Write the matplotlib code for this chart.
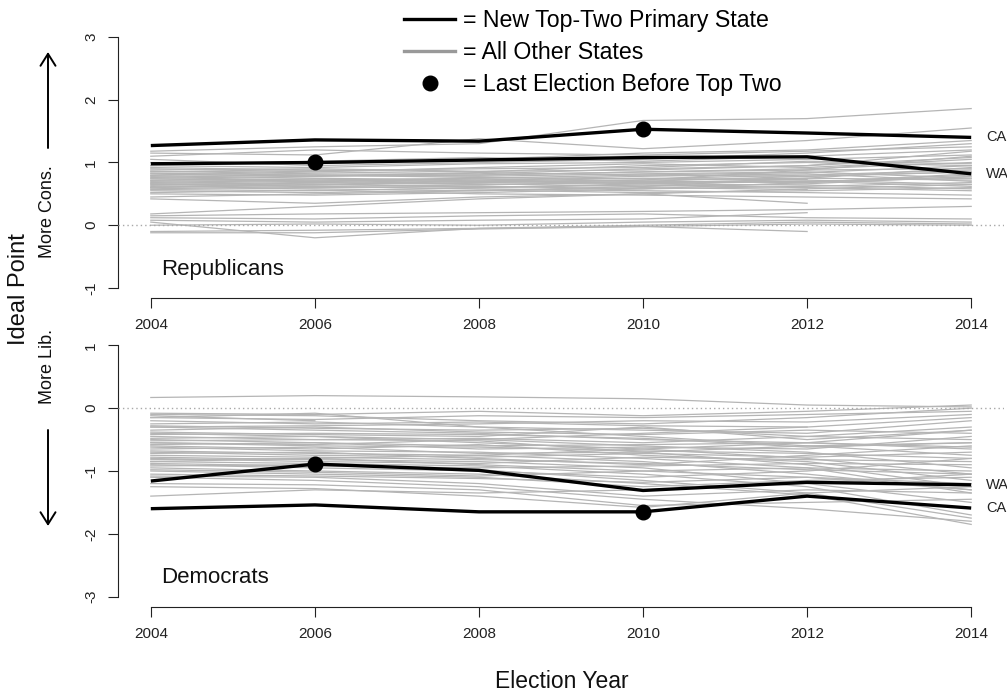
import numpy as np
import matplotlib
matplotlib.use("Agg")
import matplotlib.pyplot as plt
from matplotlib.lines import Line2D
from matplotlib.patches import FancyArrowPatch

plt.rcParams['font.family'] = ['Liberation Sans', 'DejaVu Sans']

nan = np.nan
years = [2004, 2006, 2008, 2010, 2012, 2014]
year_ticks = [2004, 2006, 2008, 2010, 2012, 2014]

# Top-two primary states: ideal points by election
ca_rep = [1.27, 1.36, 1.34, 1.53, 1.47, 1.40]
wa_rep = [0.98, 1.00, 1.04, 1.08, 1.09, 0.82]
ca_dem = [-1.60, -1.54, -1.65, -1.65, -1.40, -1.59]
wa_dem = [-1.16, -0.89, -0.99, -1.31, -1.18, -1.22]

# Year of the last election held before the top-two primary
ca_last = 2010
wa_last = 2006

# All other states, Republicans
other_rep = [
    [1.18, 1.25, 1.30, 1.67, 1.70, 1.86],
    [1.15, 1.12, 1.38, 1.22, 1.35, 1.55],
    [1.10, 1.20, 1.15, 1.12, 1.18, 1.25],
    [1.05, 0.95, 1.00, 1.05, 1.15, 1.30],
    [0.95, 0.92, 0.98, 1.00, 1.05, 1.12],
    [0.92, 0.88, 0.85, 0.95, 1.00, 0.95],
    [0.90, 0.85, 0.92, 0.98, 0.92, 1.05],
    [0.88, 0.90, 0.86, 0.88, 0.95, 1.18],
    [0.86, 0.82, 0.80, 0.85, 0.88, 0.90],
    [0.85, 0.87, 0.90, 0.92, 1.02, 0.98],
    [0.83, 0.80, 0.78, 0.82, 0.85, 0.75],
    [0.82, 0.78, 0.84, 0.80, 0.78, 0.85],
    [0.80, 0.85, 0.82, 0.90, 0.95, 1.08],
    [0.79, 0.75, 0.72, 0.78, 0.82, 0.70],
    [0.78, 0.80, 0.76, 0.74, 0.80, 0.88],
    [0.76, 0.72, 0.70, 0.75, 0.72, 0.65],
    [0.75, 0.78, 0.80, 0.85, 0.90, 1.00],
    [0.74, 0.70, 0.74, 0.70, 0.68, 0.80],
    [0.72, 0.74, 0.68, 0.72, 0.75, 0.72],
    [0.71, 0.68, 0.65, 0.68, 0.70, 0.62],
    [0.70, 0.72, 0.75, 0.80, 0.84, 0.95],
    [0.68, 0.65, 0.70, 0.66, 0.64, 0.58],
    [0.67, 0.70, 0.66, 0.62, 0.66, 0.78],
    [0.66, 0.62, 0.64, 0.70, 0.78, 0.85],
    [0.65, 0.66, 0.60, 0.64, 0.60, 0.55],
    [0.63, 0.60, 0.62, 0.58, 0.62, 0.68],
    [0.62, 0.64, 0.68, 0.72, 0.88, 1.10],
    [0.60, 0.58, 0.55, 0.60, 0.57, nan],
    [0.58, 0.62, 0.58, 0.55, 0.52, 0.48],
    [0.57, 0.55, 0.60, 0.66, 0.70, 0.75],
    [0.55, 0.52, 0.56, 0.52, 0.55, 0.60],
    [0.52, 0.56, 0.50, 0.48, 0.45, 0.42],
    [0.50, 0.48, 0.52, 0.58, 0.68, 0.82],
    [0.45, 0.50, 0.55, 0.62, 0.75, 0.92],
    [0.42, 0.35, 0.45, 0.50, 0.35, nan],
    [0.18, 0.30, 0.42, 0.50, 0.58, 0.65],
    [0.15, 0.18, 0.20, 0.22, 0.25, 0.30],
    [0.12, 0.10, 0.15, 0.18, 0.12, 0.10],
    [0.08, 0.05, 0.08, 0.10, 0.20, nan],
    [0.05, -0.20, -0.05, 0.00, 0.05, 0.02],
    [0.00, 0.02, 0.00, 0.05, 0.08, 0.05],
    [-0.10, -0.08, -0.05, -0.02, 0.02, 0.00],
    [-0.12, -0.12, -0.06, -0.02, -0.10, nan],
    [0.95, 1.02, 1.08, 1.02, 1.10, 1.20],
    [1.00, 0.98, 1.05, 1.15, 1.20, 1.35],
    [0.60, 0.68, 0.72, 0.68, 0.73, nan],
]

# All other states, Democrats
other_dem = [
    [0.17, 0.20, 0.18, 0.15, 0.05, 0.02],
    [-0.08, -0.10, -0.05, -0.12, -0.05, 0.05],
    [-0.10, -0.12, -0.20, -0.25, -0.15, 0.00],
    [-0.12, -0.20, nan, nan, nan, nan],
    [-0.15, -0.08, -0.30, -0.45, -0.60, -0.75],
    [-0.20, -0.25, -0.22, -0.28, -0.30, nan],
    [-0.25, -0.22, -0.30, -0.35, -0.40, -0.20],
    [-0.28, -0.32, -0.35, -0.32, -0.45, -0.30],
    [-0.30, -0.35, -0.40, -0.50, -0.55, -0.65],
    [-0.35, -0.30, -0.38, -0.42, -0.35, -0.40],
    [-0.38, -0.42, -0.45, -0.30, -0.50, -0.35],
    [-0.40, -0.45, -0.50, -0.60, -0.70, -0.95],
    [-0.42, -0.40, -0.42, -0.48, -0.62, -0.55],
    [-0.45, -0.50, -0.48, -0.55, -0.45, -0.50],
    [-0.48, -0.45, -0.55, -0.65, -0.80, -1.05],
    [-0.50, -0.55, -0.60, -0.58, -0.55, -0.62],
    [-0.52, -0.50, -0.52, -0.70, -0.90, -1.25],
    [-0.55, -0.60, -0.62, -0.68, -0.72, -0.80],
    [-0.58, -0.55, -0.65, -0.62, -0.65, -0.45],
    [-0.60, -0.65, -0.58, -0.75, -0.85, -1.15],
    [-0.62, -0.68, -0.70, -0.80, -0.95, -1.35],
    [-0.65, -0.62, -0.72, -0.70, -0.60, -0.55],
    [-0.68, -0.72, -0.75, -0.85, -1.05, -1.30],
    [-0.70, -0.75, -0.78, -0.72, -0.78, -0.70],
    [-0.72, -0.70, -0.80, -0.90, -0.75, -0.60],
    [-0.75, -0.78, -0.82, -0.88, -0.98, -1.05],
    [-0.78, -0.82, -0.85, -0.95, -1.20, -1.50],
    [-0.80, -0.85, -0.88, -0.78, -0.82, -0.85],
    [-0.82, -0.80, -0.90, -1.00, -1.10, -1.20],
    [-0.85, -0.88, -0.92, -1.05, -1.25, -1.70],
    [-0.88, -0.92, -0.95, -0.92, -0.88, -0.90],
    [-0.90, -0.95, -1.00, -1.10, -1.00, -0.80],
    [-0.92, -0.90, -0.98, -1.15, -1.35, -1.75],
    [-0.95, -1.00, -1.05, -1.20, -1.38, -1.85],
    [-0.98, -1.02, -1.08, -1.00, -0.95, -1.00],
    [-1.00, -1.05, -1.10, -1.25, -1.15, -1.10],
    [-1.05, -1.08, -1.12, -1.18, -1.10, -1.30],
    [-1.08, -1.10, -1.20, -1.40, -1.30, -1.35],
    [-1.10, -1.15, -1.25, -1.45, -1.60, -1.80],
    [-1.20, -1.22, -1.30, -1.55, -1.50, -1.45],
    [-1.25, -1.28, -1.40, -1.58, -1.35, -1.25],
    [-1.40, -1.30, -1.35, -1.30, -1.20, -1.05],
    [-0.30, -0.28, -0.25, -0.20, -0.22, -0.10],
    [-0.15, -0.18, -0.12, -0.15, -0.10, -0.05],
    [-0.55, -0.58, -0.50, -0.40, -0.30, -0.15],
    [-0.85, -0.80, -0.75, -0.65, -0.55, -0.35],
]

W, H = 1007, 694
fig = plt.figure(figsize=(W / 100, H / 100), dpi=100)


def px(x, y):
    """Pixel position (from top-left) to figure fraction."""
    return x / W, 1 - y / H


GRAY = '#b5b5b5'
BLACK_LW = 2.4


def panel(rect, ylo, yhi, others, ca, wa, panel_name):
    ax = fig.add_axes(rect)
    pad_y = 0.04 * (yhi - ylo)
    ax.set_xlim(2004 - 0.4, 2014 + 0.4)
    ax.set_ylim(ylo - pad_y, yhi + pad_y)
    for s in ('top', 'right'):
        ax.spines[s].set_visible(False)
    ax.spines['left'].set_bounds(ylo, yhi)
    ax.spines['bottom'].set_bounds(2004, 2014)
    for s in ('left', 'bottom'):
        ax.spines[s].set_linewidth(0.8)
        ax.spines[s].set_color('#222222')
    ax.set_xticks(year_ticks)
    ax.set_yticks(np.arange(ylo, yhi + 1))
    ax.set_yticklabels([f"{int(v)}" for v in np.arange(ylo, yhi + 1)],
                       rotation=90, va='center')
    ax.tick_params(axis='both', length=7.2, width=0.8, color='#222222',
                   labelsize=11, labelcolor='#222222')
    ax.tick_params(axis='x', pad=7.5)
    ax.tick_params(axis='y', pad=7)

    yrs = np.array(years, dtype=float)
    for row in others:
        v = np.array(row, dtype=float)
        m = ~np.isnan(v)
        ax.plot(yrs[m], v[m], color=GRAY, lw=0.9, solid_joinstyle='round',
                zorder=2)
    ax.axhline(0, color='#a8a8a8', lw=1.0, ls=(0, (1, 2.2)), zorder=3)

    for vals, last in ((ca, ca_last), (wa, wa_last)):
        ax.plot(years, vals, color='black', lw=BLACK_LW, zorder=4,
                solid_joinstyle='round', solid_capstyle='butt')
        i = years.index(last)
        ax.plot([years[i]], [vals[i]], 'o', color='black', ms=10.5, zorder=5)

    ax.text(2014.18, ca[-1], 'CA', fontsize=10.5, va='center',
            ha='left', color='#222222', clip_on=False)
    ax.text(2014.18, wa[-1], 'WA', fontsize=10.5, va='center',
            ha='left', color='#222222', clip_on=False)
    ax.text(2004.12, ylo + 0.30, panel_name, fontsize=16, va='center',
            ha='left', color='#111111')
    return ax


ax_top = panel([px(118, 0)[0], 1 - 298 / H, 886 / W, 271 / H],
               -1, 3, other_rep, ca_rep, wa_rep, 'Republicans')
ax_bot = panel([px(118, 0)[0], 1 - 606.7 / H, 886 / W, 271.4 / H],
               -3, 1, other_dem, ca_dem, wa_dem, 'Democrats')

# Legend
handles = [
    Line2D([], [], color='black', lw=BLACK_LW),
    Line2D([], [], color='#999999', lw=BLACK_LW),
    Line2D([], [], color='black', lw=0, marker='o', ms=10.5),
]
labels = ['= New Top-Two Primary State', '= All Other States',
          '= Last Election Before Top Two']
ax_top.legend(handles, labels, loc='upper left', frameon=False,
              bbox_to_anchor=px(404, 9), bbox_transform=fig.transFigure,
              fontsize=16.7, handlelength=2.2, handletextpad=0.35,
              labelspacing=0.38, borderpad=0, borderaxespad=0)

# Shared axis titles and direction cues
fig.text(*px(19, 289), 'Ideal Point', rotation=90, fontsize=17,
         ha='center', va='center', color='#111111')
fig.text(*px(562, 681), 'Election Year', fontsize=16.5, ha='center',
         va='center', color='#111111')
fig.text(*px(48, 212), 'More Cons.', rotation=90, fontsize=13,
         ha='center', va='center', color='#111111')
fig.text(*px(48, 367), 'More Lib.', rotation=90, fontsize=13,
         ha='center', va='center', color='#111111')

for start, end in (((48, 148), (48, 52)), ((48, 430), (48, 526))):
    fig.add_artist(FancyArrowPatch(px(*start), px(*end),
                                   transform=fig.transFigure,
                                   arrowstyle='->,head_length=8.6,head_width=5.4',
                                   lw=1.4, color='black',
                                   shrinkA=0, shrinkB=0))

fig.savefig('out.png', dpi=100)
